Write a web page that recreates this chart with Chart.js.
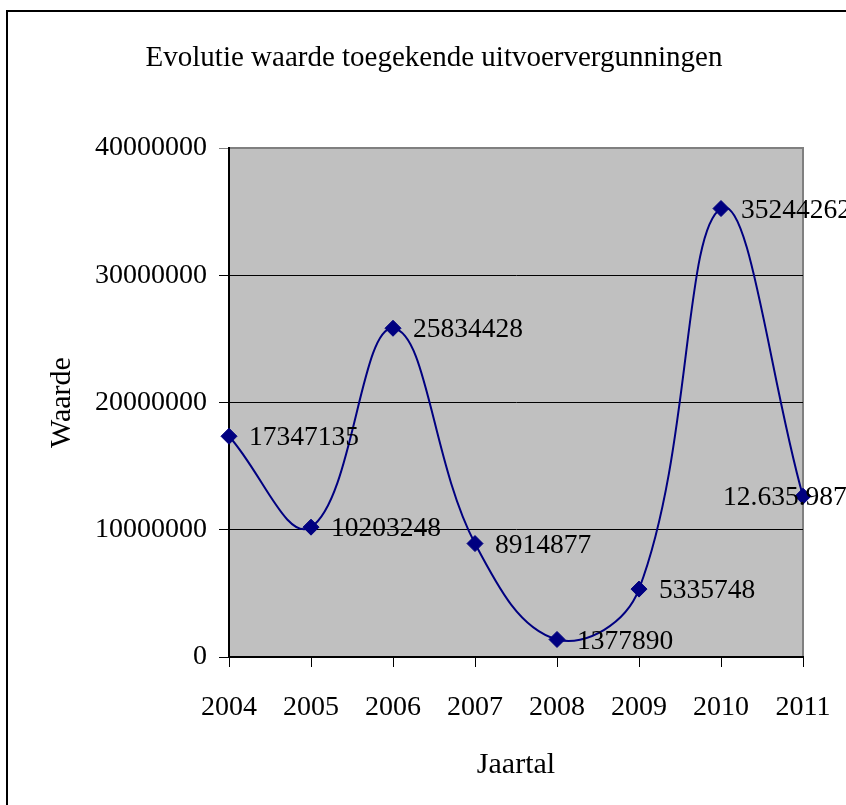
<!DOCTYPE html>
<html>
<head>
<meta charset="utf-8">
<script src="https://cdn.jsdelivr.net/npm/chart.js@4"></script>
<style>
  html, body { margin: 0; padding: 0; background: #ffffff; }
  #wrap { position: relative; width: 846px; height: 805px; }
</style>
</head>
<body>
<div id="wrap"><canvas id="c" width="846" height="805"></canvas></div>
<script>
// ---- data ----
const years = ['2004', '2005', '2006', '2007', '2008', '2009', '2010', '2011'];
const values = [17347135, 10203248, 25834428, 8914877, 1377890, 5335748, 35244262, 12635987];
const pointLabels = ['17347135', '10203248', '25834428', '8914877', '1377890', '5335748', '35244262', '12.635.987'];
const yTickLabels = ['0', '10000000', '20000000', '30000000', '40000000'];
const chartTitle = 'Evolutie waarde toegekende uitvoervergunningen';
const xTitle = 'Jaartal';
const yTitle = 'Waarde';

// ---- styles ----
const SERIF = '"Liberation Serif", "Times New Roman", serif';
const NAVY = '#000080';
const labelOffsets = [[20, 2], [20, 2], [20, 2], [20, 2], [20, 2], [20, 2], [20, 2], [-80, 2]];

const decorPlugin = {
  id: 'decor',
  beforeDraw(chart) {
    const { ctx, chartArea: a } = chart;
    ctx.save();
    ctx.fillStyle = '#ffffff';
    ctx.fillRect(0, 0, chart.width, chart.height);
    // figure frame
    ctx.strokeStyle = '#000000';
    ctx.lineWidth = 2;
    ctx.beginPath();
    ctx.moveTo(7, chart.height);
    ctx.lineTo(7, 11);
    ctx.lineTo(chart.width, 11);
    ctx.stroke();
    // plot area
    ctx.fillStyle = '#c0c0c0';
    ctx.fillRect(a.left, a.top, a.right - a.left, a.bottom - a.top);
    ctx.strokeStyle = '#808080';
    ctx.lineWidth = 2;
    ctx.strokeRect(a.left, a.top, a.right - a.left, a.bottom - a.top);
    // title
    ctx.fillStyle = '#000000';
    ctx.font = '29px ' + SERIF;
    ctx.textAlign = 'center';
    ctx.textBaseline = 'middle';
    ctx.fillText(chartTitle, 434, 58);
    ctx.restore();
  },
  afterDatasetsDraw(chart) {
    const { ctx } = chart;
    const meta = chart.getDatasetMeta(0);
    ctx.save();
    ctx.fillStyle = '#000000';
    ctx.font = '27.5px ' + SERIF;
    ctx.textAlign = 'left';
    ctx.textBaseline = 'middle';
    meta.data.forEach((pt, i) => {
      const off = labelOffsets[i];
      ctx.fillText(pointLabels[i], pt.x + off[0], pt.y + off[1]);
    });
    ctx.restore();
  }
};

new Chart(document.getElementById('c'), {
  type: 'line',
  data: {
    labels: years,
    datasets: [{
      data: values,
      borderColor: NAVY,
      backgroundColor: NAVY,
      borderWidth: 2,
      tension: 0.4,
      pointStyle: 'rectRot',
      pointRadius: 8,
      pointHoverRadius: 8,
      pointBackgroundColor: NAVY,
      pointBorderColor: NAVY,
      pointBorderWidth: 1,
      fill: false,
      clip: false
    }]
  },
  options: {
    responsive: false,
    animation: false,
    devicePixelRatio: 1,
    layout: { padding: { top: 148, right: 43, left: 0, bottom: 0 } },
    plugins: {
      legend: { display: false },
      tooltip: { enabled: false },
      title: { display: false }
    },
    scales: {
      x: {
        type: 'category',
        offset: false,
        afterFit(scale) { scale.height = 148; scale.paddingLeft = 0; scale.paddingRight = 0; },
        grid: { drawOnChartArea: false, drawTicks: true, tickLength: 10, color: '#000000', lineWidth: 1 },
        border: { display: true, color: '#000000', width: 2 },
        ticks: { color: '#000000', font: { family: SERIF, size: 28 }, padding: 24, maxRotation: 0, autoSkip: false },
        title: { display: true, text: xTitle, color: '#000000', font: { family: SERIF, size: 30 }, padding: { top: 0, bottom: 22 } }
      },
      y: {
        min: 0,
        max: 40000000,
        afterFit(scale) { scale.width = 229; scale.paddingTop = 0; scale.paddingBottom = 0; },
        grid: {
          drawTicks: true,
          tickLength: 10,
          lineWidth: 1,
          color: (c) => (c.tick && c.tick.value === 40000000 ? '#808080' : '#000000')
        },
        border: { display: true, color: '#000000', width: 2 },
        ticks: {
          stepSize: 10000000,
          color: '#000000',
          font: { family: SERIF, size: 28 },
          padding: 12,
          callback: (v, i) => yTickLabels[i]
        },
        title: { display: true, text: yTitle, color: '#000000', font: { family: SERIF, size: 30 }, padding: { top: 44, bottom: 0 } }
      }
    }
  },
  plugins: [decorPlugin]
});
</script>
</body>
</html>
